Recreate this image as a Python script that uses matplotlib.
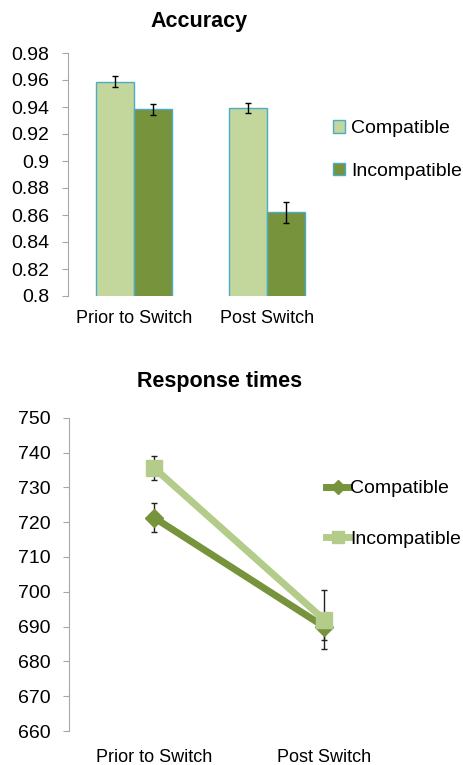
import matplotlib
matplotlib.use('Agg')
import matplotlib.pyplot as plt
import numpy as np

plt.rcParams['font.family'] = ['Liberation Sans', 'DejaVu Sans']

conditions = ['Prior to Switch', 'Post Switch']
series = ['Compatible', 'Incompatible']

# accuracy (bar chart)
acc_compatible = [0.9588, 0.939]
acc_incompatible = [0.9383, 0.862]
acc_err_compatible = [0.0042, 0.0037]
acc_err_incompatible = [0.0042, 0.0077]
acc_ticks = [0.8, 0.82, 0.84, 0.86, 0.88, 0.9, 0.92, 0.94, 0.96, 0.98]
acc_ticklabels = ['0.8', '0.82', '0.84', '0.86', '0.88', '0.9', '0.92', '0.94', '0.96', '0.98']

# response times (line chart)
rt_compatible = [721.3, 690.0]
rt_incompatible = [735.6, 692.0]
rt_err_compatible = [4.2, 4.0]
rt_err_incompatible = [3.5, 8.5]
rt_ticks = [660, 670, 680, 690, 700, 710, 720, 730, 740, 750]

light = '#C3D69B'
dark = '#77933C'
edge = '#4BACC6'
axis_grey = '#A6A6A6'
W, H = 464, 765

fig = plt.figure(figsize=(4.64, 7.65), dpi=100)

# ---- Accuracy ----
ax1 = fig.add_axes([67.7 / W, 1 - 296 / H, 265.3 / W, 243 / H])
x = np.arange(len(conditions))
w = 0.286
ekw = dict(ecolor='black', elinewidth=1, capsize=2, capthick=1)
ax1.bar(x - w / 2, acc_compatible, w, color=light, edgecolor=edge, linewidth=1,
        yerr=acc_err_compatible, error_kw=ekw, label=series[0])
ax1.bar(x + w / 2, acc_incompatible, w, color=dark, edgecolor=edge, linewidth=1,
        yerr=acc_err_incompatible, error_kw=ekw, label=series[1])
ax1.set_xlim(-0.5, 1.5)
ax1.set_ylim(0.8, 0.98)
ax1.set_yticks(acc_ticks)
ax1.set_yticklabels(acc_ticklabels)
ax1.set_xticks(x)
ax1.set_xticklabels(conditions)
ax1.tick_params(axis='x', length=0, labelsize=13, pad=10)
ax1.tick_params(axis='y', length=4.3, color=axis_grey, labelsize=14, pad=9)
for s in ['top', 'right', 'bottom']:
    ax1.spines[s].set_visible(False)
ax1.spines['left'].set_color(axis_grey)
fig.text(199 / W, 1 - 22 / H, 'Accuracy', fontsize=15.5, fontweight='bold',
         ha='center', va='center')
ax1.legend(loc='center left', bbox_to_anchor=(333 / W, 1 - 150 / H),
           bbox_transform=fig.transFigure, frameon=False,
           fontsize=14, handlelength=0.6, handleheight=0.6, handletextpad=0.35,
           labelspacing=1.3, borderaxespad=0.0, borderpad=0.0)

# ---- Response times ----
ax2 = fig.add_axes([69 / W, 1 - 731 / H, 340 / W, 313.3 / H])
# error bars behind the markers, like the original
ax2.errorbar(x, rt_compatible, yerr=rt_err_compatible, fmt='none', ecolor='#222222',
             elinewidth=1, capsize=2.5, zorder=1)
ax2.errorbar(x, rt_incompatible, yerr=rt_err_incompatible, fmt='none', ecolor='#222222',
             elinewidth=1, capsize=2.5, zorder=1)
ax2.plot(x, rt_compatible, color=dark, linewidth=5, marker='D', markersize=9,
         label=series[0], zorder=2)
ax2.plot(x, rt_incompatible, color='#B3CC8A', linewidth=5, marker='s', markersize=11,
         label=series[1], zorder=3)
ax2.set_xlim(-0.5, 1.5)
ax2.set_ylim(660, 750)
ax2.set_yticks(rt_ticks)
ax2.set_xticks(x)
ax2.set_xticklabels(conditions)
ax2.tick_params(axis='x', length=0, labelsize=13, pad=13)
ax2.tick_params(axis='y', length=4.3, color=axis_grey, labelsize=14, pad=9)
for s in ['top', 'right', 'bottom']:
    ax2.spines[s].set_visible(False)
ax2.spines['left'].set_color(axis_grey)
fig.text(220 / W, 1 - 382 / H, 'Response times', fontsize=15.5, fontweight='bold',
         ha='center', va='center')
ax2.legend(loc='center left', bbox_to_anchor=(326 / W, 1 - 514 / H),
           bbox_transform=fig.transFigure, frameon=False,
           fontsize=14, handlelength=1.2, handletextpad=0.05, markerscale=0.75,
           labelspacing=1.7, borderaxespad=0.0, borderpad=0.0)

fig.savefig('out.png', dpi=100)
